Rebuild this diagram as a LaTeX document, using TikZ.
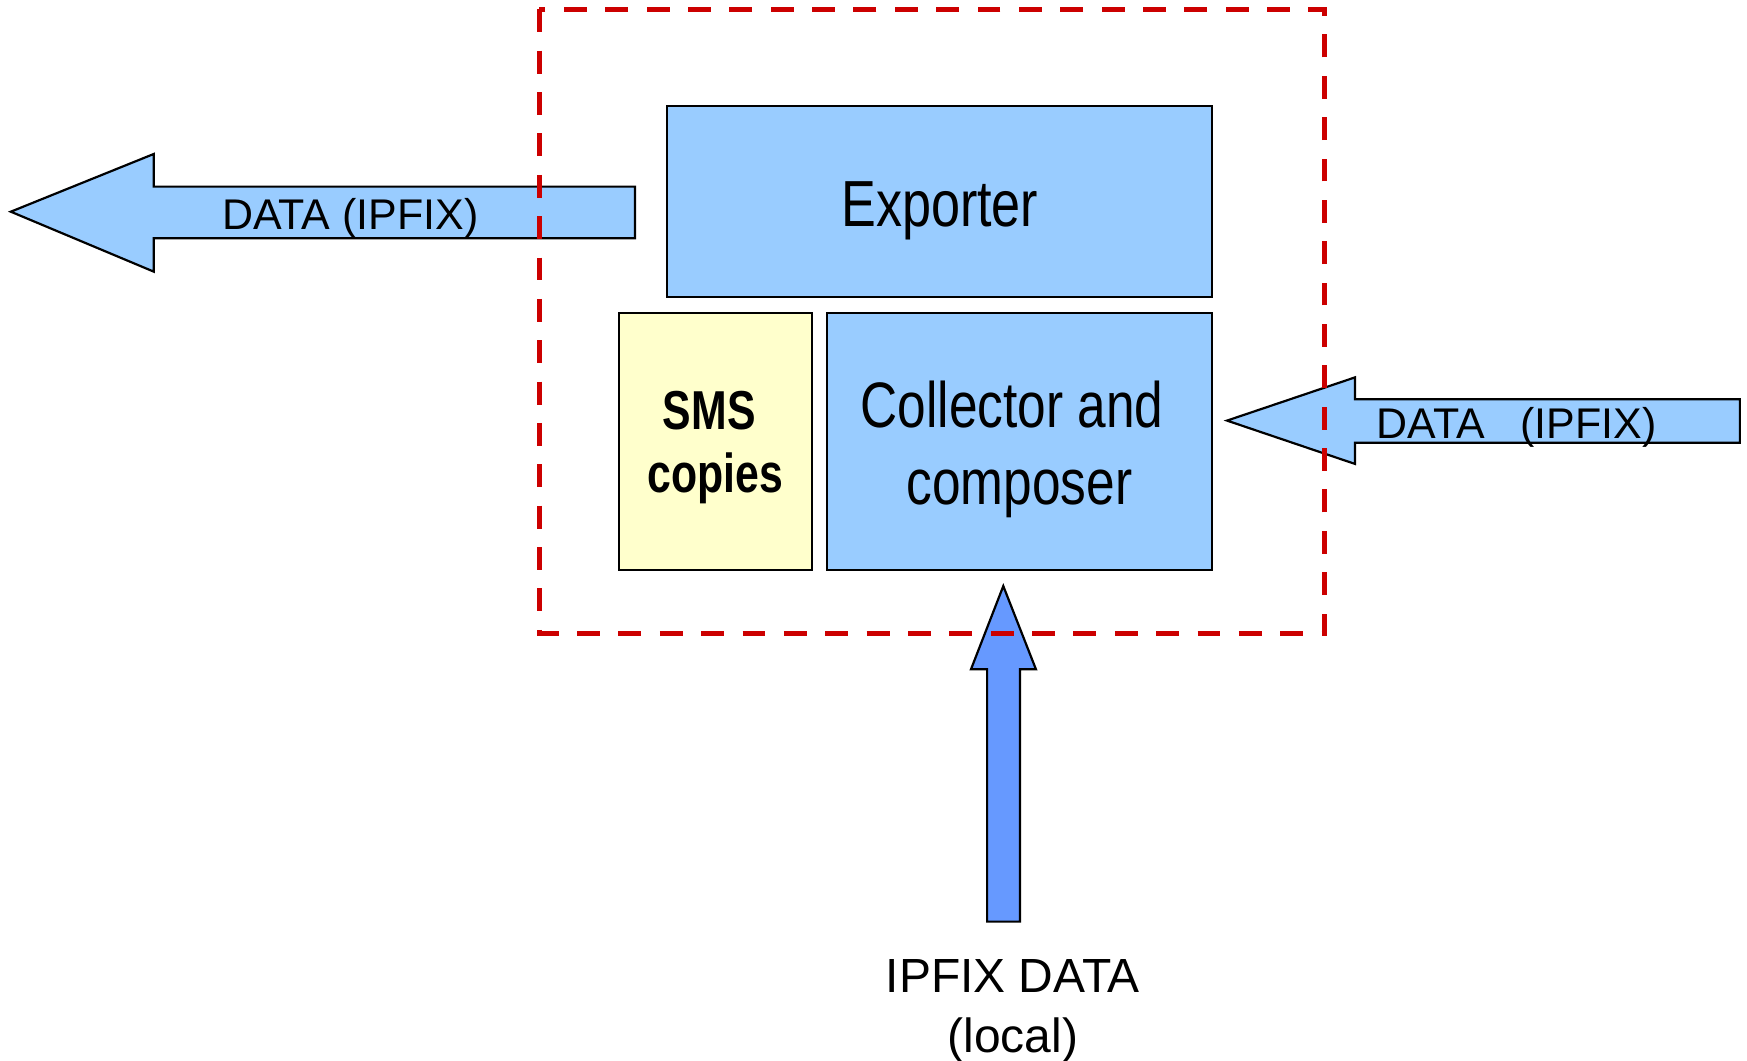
\documentclass[tikz,border=0pt]{standalone}
\usepackage{fontspec}
\setmainfont{Liberation Sans}
\newfontfamily\narrowfont[FakeStretch=0.8]{Liberation Sans}
\newfontfamily\narrowboldfont[FakeStretch=0.78]{Liberation Sans Bold}
\definecolor{lightblue}{HTML}{99CCFF}
\definecolor{paleyellow}{HTML}{FFFFCC}
\definecolor{midblue}{HTML}{6699FF}
\definecolor{dashred}{HTML}{CC0000}
\begin{document}
\begin{tikzpicture}[x=0.0125cm,y=-0.0125cm,
  box/.style={draw=black, line width=0.7pt, inner sep=0pt, align=center},
  blockarrow/.style={draw=black, line width=0.7pt, line join=miter},
  arrowtext/.style={anchor=base west, inner sep=0pt, font=\fontsize{13.7}{16}\selectfont},
  reddash/.style={draw=dashred, line width=1.7pt, dash pattern=on 7.3pt off 5.9pt}]
\useasboundingbox (0,0) rectangle (1568,952);

% boxes
\node[box, fill=lightblue, minimum width=489*0.0125cm, minimum height=172*0.0125cm,
      font=\narrowfont\fontsize{20.8}{24.4}\selectfont, text height=20.4pt] (exporter) at (843.5,180.8) {Exporter};
\node[box, fill=paleyellow, minimum width=173.2*0.0125cm, minimum height=230.4*0.0125cm,
      font=\narrowboldfont\fontsize{17.5}{20.3}\selectfont, text height=36.3pt] (sms) at (642,396.4) {SMS\kern3.8pt\\copies};
\node[box, fill=lightblue, minimum width=346*0.0125cm, minimum height=230.4*0.0125cm,
      font=\narrowfont\fontsize{20.5}{24.4}\selectfont, text height=44.1pt] (collector) at (915,396.4) {Collector and\kern4.6pt\\composer};

% left outgoing block arrow
\draw[blockarrow, fill=lightblue] (9.7,190) -- (138,138.2) -- (138,167.5) -- (570,167.5)
  -- (570,213.9) -- (138,213.9) -- (138,243.8) -- cycle;
\node[arrowtext] (outlabel) at (199,205.8) {DATA (IPFIX)};

% right incoming block arrow
\draw[blockarrow, fill=lightblue] (1101.3,377.5) -- (1216.2,338.7) -- (1216.2,358.4) -- (1561.6,358.4)
  -- (1561.6,397.3) -- (1216.2,397.3) -- (1216.2,416.4) -- cycle;
\node[arrowtext] (inlabel) at (1235,393.4) {DATA\ \ \ (IPFIX)};

% bottom local block arrow
\draw[blockarrow, fill=midblue] (900.5,526) -- (929.8,600.7) -- (915.5,600.7) -- (915.5,827.2)
  -- (886,827.2) -- (886,600.7) -- (871.5,600.7) -- cycle;
\node[align=center, inner sep=0pt, font=\fontsize{15.3}{19.1}\selectfont] (locallabel) at (909,907.3) {IPFIX DATA\\(local)};

% dashed boundary
\draw[reddash] (484,8.4) rectangle (1189,568.4);
\end{tikzpicture}
\end{document}
